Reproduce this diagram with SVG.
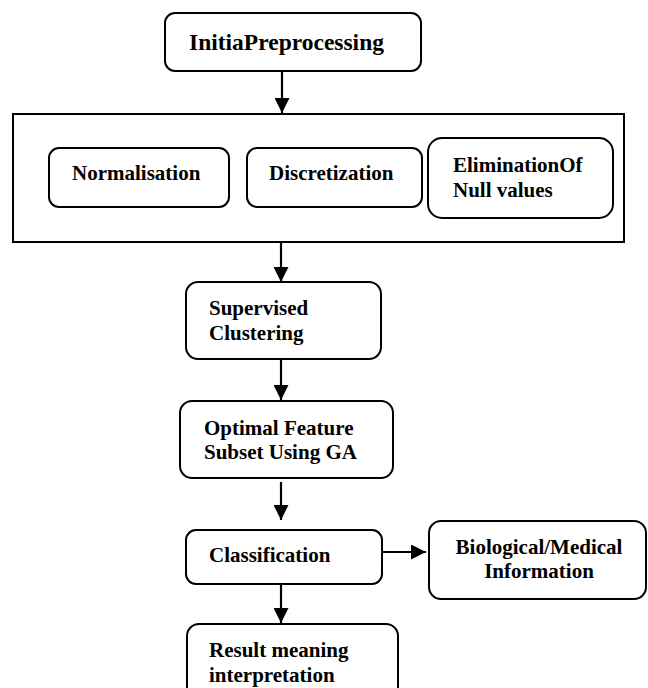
<svg xmlns="http://www.w3.org/2000/svg" width="648" height="688" viewBox="0 0 648 688">
<style>
.box{fill:#fff;stroke:#000;stroke-width:2}
.t{font-family:"Liberation Serif","Times New Roman",serif;font-weight:bold;font-size:21px;fill:#000}
.big{font-size:23.5px}
.c{stroke:#000;stroke-width:2.2;fill:none}
</style>
<defs>
<marker id="ah" viewBox="0 0 15 15" refX="15" refY="7.5" markerWidth="15" markerHeight="15" markerUnits="userSpaceOnUse" orient="auto">
<path d="M0,0 L15,7.5 L0,15 Z" fill="#000"/>
</marker>
</defs>
<rect width="648" height="688" fill="#fff"/>
<g id="preprocessing-group">
<rect x="13" y="114" width="611" height="128" fill="#fff" stroke="#000" stroke-width="2"/>
</g>
<g id="initial">
<rect class="box" x="165" y="13" width="256" height="58" rx="10"/>
<text class="t big" x="189" y="50">InitiaPreprocessing</text>
</g>
<g id="normalisation">
<rect class="box" x="49" y="148" width="180" height="59" rx="10"/>
<text class="t" x="72" y="180">Normalisation</text>
</g>
<g id="discretization">
<rect class="box" x="247" y="148" width="175" height="59" rx="10"/>
<text class="t" x="269" y="180">Discretization</text>
</g>
<g id="elimination">
<rect class="box" x="428" y="138" width="185" height="80" rx="14"/>
<text class="t" x="453" y="172">EliminationOf</text>
<text class="t" x="453" y="197">Null values</text>
</g>
<g id="supervised">
<rect class="box" x="186" y="282" width="195" height="77" rx="12"/>
<text class="t" x="209" y="315">Supervised</text>
<text class="t" x="209" y="340">Clustering</text>
</g>
<g id="optimal">
<rect class="box" x="180" y="401" width="213" height="77" rx="12"/>
<text class="t" x="204" y="435">Optimal Feature</text>
<text class="t" x="204" y="459">Subset Using GA</text>
</g>
<g id="classification">
<rect class="box" x="186" y="530" width="196" height="54" rx="10"/>
<text class="t" x="209" y="562">Classification</text>
</g>
<g id="biological">
<rect class="box" x="429" y="521" width="217" height="78" rx="12"/>
<text class="t" x="539" y="554" text-anchor="middle">Biological/Medical</text>
<text class="t" x="539" y="578" text-anchor="middle">Information</text>
</g>
<g id="result">
<rect class="box" x="187" y="624" width="211" height="80" rx="12"/>
<text class="t" x="209" y="657">Result meaning</text>
<text class="t" x="209" y="682">interpretation</text>
</g>
<g id="connectors">
<line class="c" x1="282" y1="71" x2="282" y2="113" marker-end="url(#ah)"/>
<line class="c" x1="281" y1="242" x2="281" y2="282" marker-end="url(#ah)"/>
<line class="c" x1="281" y1="359" x2="281" y2="400" marker-end="url(#ah)"/>
<line class="c" x1="281" y1="482" x2="281" y2="520" marker-end="url(#ah)"/>
<line class="c" x1="281" y1="585" x2="281" y2="623" marker-end="url(#ah)"/>
<line class="c" x1="382" y1="552" x2="426" y2="552" marker-end="url(#ah)"/>
</g>
</svg>
